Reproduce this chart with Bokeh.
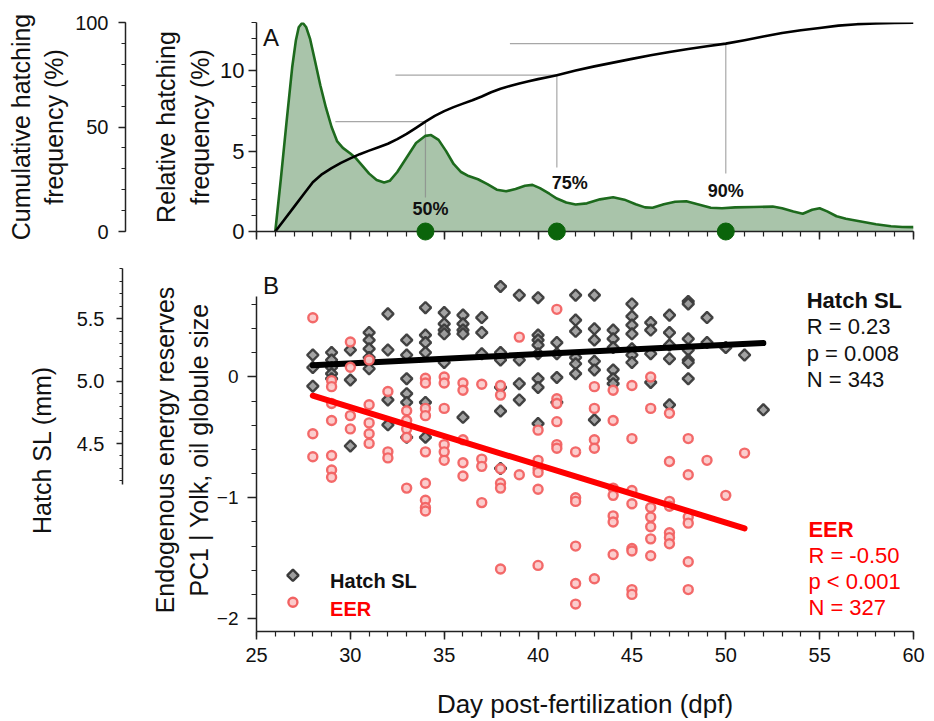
import numpy as np
from bokeh.plotting import figure
from bokeh.models import (Range1d, LinearAxis, SingleIntervalTicker, FixedTicker,
                          NumeralTickFormatter, Label)
from bokeh.layouts import column
from bokeh.embed import file_html
from bokeh.resources import INLINE
from bokeh.core.properties import value

FONT = "Liberation Sans"

# ---------------- Panel A: hatching timing ----------------
rel_days = [26.0, 26.3, 26.6, 26.9, 27.1, 27.25, 27.45, 27.65, 27.85, 28.1, 28.4, 28.7,
            29.0, 29.3, 29.6, 30.0, 30.3, 30.6, 31.0, 31.4, 31.8, 32.1, 32.5, 33.0, 33.5,
            34.0, 34.3, 34.7, 35.1, 35.5, 35.9, 36.3, 36.8, 37.3, 37.8, 38.3, 38.8, 39.3,
            39.7, 40.1, 40.6, 41.0, 41.5, 42.0, 42.6, 43.3, 44.0, 44.6, 45.2, 45.7, 46.1,
            46.7, 47.3, 47.9, 48.5, 49.2, 49.8, 50.5, 51.5, 52.5, 53.0, 53.6, 54.1, 54.6,
            55.0, 55.4, 55.9, 56.4, 57.2, 58.0, 58.8, 59.4, 60.0]
rel_freq = [0.0, 3.3, 6.8, 10.2, 11.9, 12.7, 13.0, 12.7, 12.0, 10.7, 9.1, 7.7,
            6.5, 5.6, 5.2, 4.85, 4.55, 4.15, 3.6, 3.2, 3.05, 3.15, 3.7, 4.6, 5.5,
            5.95, 6.0, 5.7, 5.0, 4.2, 3.7, 3.45, 3.25, 2.95, 2.6, 2.5, 2.65, 2.85,
            2.9, 2.7, 2.35, 2.05, 1.8, 1.68, 1.75, 2.0, 2.13, 1.98, 1.7, 1.5, 1.48,
            1.7, 1.85, 1.88, 1.7, 1.48, 1.45, 1.5, 1.52, 1.55, 1.45, 1.25, 1.1, 1.35,
            1.45, 1.25, 0.95, 0.79, 0.62, 0.45, 0.33, 0.28, 0.27]

cum_days = [26.0, 26.5, 27.0, 27.5, 28.0, 28.5, 29.0, 29.5, 30.0, 30.5, 31.0, 31.5, 32.0,
            32.5, 33.0, 33.5, 34.0, 34.5, 35.0, 35.5, 36.0, 36.5, 37.0, 37.5, 38.0, 38.5,
            39.0, 39.5, 40.0, 40.5, 41.0, 42.0, 43.0, 44.0, 45.0, 46.0, 47.0, 48.0, 49.0,
            50.0, 51.0, 52.0, 53.0, 54.0, 55.0, 56.0, 57.0, 58.0, 59.0, 60.0]
cum_freq = [0.0, 5.9, 11.8, 17.7, 23.6, 27.5, 30.3, 32.8, 35.0, 37.0, 38.7, 40.3, 42.0,
            44.2, 46.7, 49.6, 52.6, 55.3, 57.6, 59.5, 61.2, 62.8, 64.6, 66.6, 68.3, 69.6,
            70.8, 71.9, 72.9, 73.8, 74.8, 77.0, 79.0, 80.8, 82.6, 84.3, 85.9, 87.3, 88.6,
            89.9, 91.5, 93.3, 95.0, 96.3, 97.4, 98.5, 99.2, 99.6, 99.8, 99.9]

quant_days = [34, 41, 50]
quant_cum = [52.6, 74.8, 89.9]
quant_labels = ["50%", "75%", "90%"]

# ---------------- Panel B: size and energy reserves at hatch ----------------
sl_days = [28, 28, 28,
           29, 29, 29, 29, 29,
           30, 30, 30,
           31, 31, 31, 31, 31,
           32, 32, 32, 32,
           33, 33, 33, 33, 33, 33,
           34, 34, 34, 34, 34, 34,
           35, 35, 35, 35, 35,
           36, 36, 36, 36, 36,
           37, 37, 37,
           38, 38, 38, 38, 38, 38,
           39, 39, 39, 39,
           40, 40, 40, 40, 40, 40, 40, 40,
           41, 41, 41, 41,
           42, 42, 42, 42, 42, 42,
           43, 43, 43, 43, 43, 43,
           44, 44, 44, 44, 44, 44,
           45, 45, 45, 45, 45, 45, 45,
           46, 46, 46, 46,
           47, 47, 47, 47, 47,
           48, 48, 48, 48, 48, 48, 48,
           49, 49,
           50,
           51,
           52]
sl_mm = [5.21, 5.11, 4.96,
         5.23, 5.17, 5.11, 5.06, 5.02,
         5.25, 5.01, 4.48,
         5.39, 5.33, 5.26, 5.19, 5.10,
         5.54, 5.25, 4.85, 4.65,
         5.33, 5.21, 5.02, 4.90, 4.83, 4.55,
         5.59, 5.37, 5.31, 5.23, 4.83, 4.55,
         5.55, 5.46, 5.41, 5.38, 5.15,
         5.53, 5.46, 5.41, 5.38, 4.71,
         5.51, 5.39, 5.22,
         5.76, 5.23, 5.17, 4.95, 4.76, 4.30,
         5.69, 5.17, 4.98, 4.85,
         5.67, 5.37, 5.33, 5.29, 5.22, 5.02, 4.95, 4.66,
         5.31, 5.22, 5.03, 4.83,
         5.69, 5.49, 5.40, 5.19, 5.14, 5.06,
         5.69, 5.42, 5.33, 5.16, 5.09, 4.69,
         5.41, 5.34, 5.27, 5.09, 5.02, 4.98,
         5.62, 5.52, 5.45, 5.38, 5.26, 5.21, 5.15,
         5.47, 5.41, 5.22, 4.99,
         5.53, 5.39, 5.29, 5.18, 4.81,
         5.64, 5.62, 5.34, 5.25, 5.17, 5.15, 5.02,
         5.51, 5.31,
         5.27,
         5.21,
         4.77]

eer_days = [28, 28, 28,
            29, 29, 29, 29, 29, 29, 29,
            30, 30, 30, 30,
            31, 31, 31, 31, 31,
            32, 32, 32,
            33, 33, 33, 33, 33,
            34, 34, 34, 34, 34, 34, 34, 34, 34,
            35, 35, 35, 35, 35, 35,
            36, 36, 36, 36, 36,
            37, 37, 37, 37,
            38, 38, 38, 38, 38, 38,
            39, 39,
            40, 40, 40, 40, 40, 40,
            41, 41, 41, 41, 41, 41,
            42, 42, 42, 42, 42, 42,
            43, 43, 43, 43, 43,
            44, 44, 44, 44, 44, 44, 44,
            45, 45, 45, 45, 45, 45, 45, 45,
            46, 46, 46, 46, 46, 46, 46,
            47, 47, 47, 47, 47, 47, 47,
            48, 48, 48, 48, 48, 48,
            49,
            50,
            51]
eer_pc1 = [0.49, -0.47, -0.66,
           -0.03, -0.08, -0.22, -0.36, -0.65, -0.77, -0.83,
           0.29, 0.08, -0.32, -0.43,
           0.14, -0.23, -0.38, -0.47, -0.55,
           -0.12, -0.62, -0.67,
           -0.28, -0.36, -0.43, -0.50, -0.92,
           -0.01, -0.05, -0.26, -0.32, -0.62, -0.88, -1.02, -1.08, -1.11,
           0.00, -0.05, -0.26, -0.56, -0.62, -0.69,
           -0.05, -0.11, -0.52, -0.71, -0.82,
           -0.06, -0.68, -0.74, -1.04,
           -0.07, -0.15, -0.76, -0.88, -0.92, -1.59,
           0.33, -0.81,
           -0.44, -0.69, -0.76, -0.79, -0.93, -1.56,
           0.56, -0.18, -0.22, -0.37, -0.56, -0.59,
           -0.62, -1.00, -1.03, -1.40, -1.71, -1.88,
           -0.08, -0.26, -0.52, -0.59, -1.67,
           -0.11, -0.36, -0.92, -0.98, -1.15, -1.20, -1.47,
           -0.07, -0.51, -0.94, -1.05, -1.42, -1.44, -1.76, -1.80,
           0.00, -0.26, -1.08, -1.16, -1.24, -1.34, -1.48,
           -0.30, -0.70, -1.03, -1.07, -1.29, -1.33, -1.38,
           -0.51, -0.81, -1.16, -1.21, -1.53, -1.76,
           -0.69,
           -0.98,
           -0.63]

# fitted trends
sl_fit_days = [28, 52]
sl_fit_mm = [5.128, 5.306]
eer_fit_days = [28, 51]
eer_fit_pc1 = [-0.155, -1.253]

sl_stats = ["R = 0.23", "p = 0.008", "N = 343"]
eer_stats = ["R = -0.50", "p < 0.001", "N = 327"]
legend_labels = ["Hatch SL", "EER"]

GREEN_LINE = "#1d6a1d"
GREEN_FILL = "#a9c4aa"
GREEN_DOT = "#0b640b"
AX = "#222222"
SL_LINE, SL_FILL = "#3a3a3a", "#9e9e9e"
EER_LINE, EER_FILL = "#f26262", "#fbcaca"


def style_axis(ax, label_size, tick_out, minor_out, standoff):
    ax.axis_line_color = AX
    ax.axis_line_width = 1.5
    ax.major_tick_line_color = AX
    ax.minor_tick_line_color = AX
    ax.major_tick_line_width = 1.5
    ax.minor_tick_line_width = 1.2
    ax.major_tick_in = 0
    ax.minor_tick_in = 0
    ax.major_tick_out = tick_out
    ax.minor_tick_out = minor_out
    ax.major_label_text_font = FONT
    ax.major_label_text_font_size = label_size
    ax.major_label_text_color = "#111111"
    ax.major_label_standoff = standoff
    ax.axis_label_text_font = FONT
    ax.axis_label_text_font_style = "normal"
    ax.axis_label_text_font_size = "25px"
    ax.axis_label_text_color = "#111111"


def spacer_axis(range_name, gap):
    # empty axis used only to push the outer axis further left
    ax = LinearAxis(y_range_name=range_name, ticker=FixedTicker(ticks=[]))
    ax.axis_line_color = None
    ax.major_tick_out = 0
    ax.minor_tick_out = 0
    ax.major_label_standoff = 0
    ax.axis_label = " "
    ax.axis_label_text_font_size = "1px"
    ax.axis_label_text_color = None
    ax.axis_label_standoff = gap
    return ax


# ---------------- figure A ----------------
pa = figure(width=934, height=248, x_range=Range1d(25, 60), y_range=Range1d(0, 13),
            output_backend="svg", toolbar_location=None,
            min_border_left=256, min_border_right=21, min_border_top=22, min_border_bottom=17)
pa.extra_y_ranges = {"cum": Range1d(0, 100)}
pa.outline_line_color = None
pa.xgrid.visible = False
pa.ygrid.visible = False

xa = pa.xaxis[0]
xa.ticker = SingleIntervalTicker(interval=5, num_minor_ticks=5)
style_axis(xa, "1px", 8, 5, 0)
xa.major_label_text_color = None

ya = pa.yaxis[0]
ya.ticker = SingleIntervalTicker(interval=5, num_minor_ticks=5)
style_axis(ya, "22px", 8, 5, 4)
ya.axis_label = "Relative hatching\nfrequency (%)"
ya.axis_label_standoff = 3

pa.add_layout(spacer_axis("cum", 20), "left")
cum_axis = LinearAxis(y_range_name="cum", ticker=SingleIntervalTicker(interval=50, num_minor_ticks=5))
style_axis(cum_axis, "20px", 7, 4, 10)
cum_axis.axis_label = "Cumulative hatching\nfrequency (%)"
cum_axis.axis_label_standoff = 4
pa.add_layout(cum_axis, "left")

pa.varea(x=rel_days, y1=0, y2=rel_freq, fill_color=GREEN_FILL)

# guide lines from the cumulative curve to the quantile days
line_start = [29.2, 32.4, 38.5]
drop_end = [16.3, 30.6, 27.8]
pa.segment(x0=line_start, y0=quant_cum, x1=quant_days, y1=quant_cum,
           y_range_name="cum", line_color="#8a8a8a", line_width=1.2, line_alpha=0.75)
pa.segment(x0=quant_days, y0=quant_cum, x1=quant_days, y1=drop_end,
           y_range_name="cum", line_color="#8a8a8a", line_width=1.2, line_alpha=0.75)

pa.line(rel_days, rel_freq, line_color=GREEN_LINE, line_width=2.6, line_join="round")
pa.line(cum_days, cum_freq, y_range_name="cum", line_color="black", line_width=2.6,
        line_join="round")

dots = pa.scatter(x=quant_days, y=[0, 0, 0], size=17, fill_color=GREEN_DOT,
                  line_color=GREEN_DOT, marker="circle")
dots.level = "overlay"

pa.text(x=quant_days, y=[1.43, 2.99, 2.55], text=quant_labels,
        x_offset=[5, 13, 0], text_align="center", text_baseline="middle",
        text_font=value(FONT), text_font_style="bold", text_font_size="18px",
        text_color="#111111")

pa.add_layout(Label(x=25.35, y=12.07, text="A", text_font=FONT, text_font_size="24px",
                    text_baseline="middle", text_color="#111111"))

# ---------------- figure B ----------------
pb = figure(width=934, height=473, x_range=Range1d(25, 60), y_range=Range1d(-2.107, 0.898),
            output_backend="svg", toolbar_location=None,
            min_border_left=256, min_border_right=21, min_border_top=20, min_border_bottom=89)
pb.extra_y_ranges = {"sl": Range1d(2.992, 5.904)}
pb.outline_line_color = None
pb.xgrid.visible = False
pb.ygrid.visible = False

xb = pb.xaxis[0]
xb.ticker = SingleIntervalTicker(interval=5, num_minor_ticks=5)
style_axis(xb, "20px", 8, 5, 8)
xb.axis_label = "Day post-fertilization (dpf)"
xb.axis_label_text_font_size = "26px"
xb.axis_label_standoff = 24

yb = pb.yaxis[0]
yb.ticker = SingleIntervalTicker(interval=1, num_minor_ticks=5)
yb.bounds = (-2.107, 0.67)
style_axis(yb, "19px", 9, 5, 9)
yb.axis_label = "Endogenous energy reserves\nPC1 | Yolk, oil globule size"
yb.axis_label_standoff = 1

pb.add_layout(spacer_axis("sl", 22), "left")
sl_axis = LinearAxis(y_range_name="sl", ticker=SingleIntervalTicker(interval=0.5, num_minor_ticks=5),
                     formatter=NumeralTickFormatter(format="0.0"))
sl_axis.bounds = (4.17, 5.904)
style_axis(sl_axis, "20px", 6, 3, 12)
sl_axis.axis_label = "Hatch SL (mm)"
sl_axis.axis_label_standoff = 18
pb.add_layout(sl_axis, "left")

pb.scatter(sl_days, sl_mm, y_range_name="sl", marker="square", angle=np.pi / 4,
           size=8, line_color=SL_LINE, line_width=2.4, fill_color=SL_FILL,
           fill_alpha=0.95, line_alpha=0.95)
pb.line(sl_fit_days, sl_fit_mm, y_range_name="sl", line_color="black", line_width=6,
        line_cap="round")
pb.scatter(eer_days, eer_pc1, marker="circle", size=9, line_color=EER_LINE,
           line_width=2.4, fill_color=EER_FILL, fill_alpha=0.95, line_alpha=0.95)
pb.line(eer_fit_days, eer_fit_pc1, line_color="#ff0000", line_width=6, line_cap="round")

# statistics blocks
pb.text(x=[54.31], y=[0.634], text=["Hatch SL"], text_font=value(FONT), text_font_style="bold",
        text_font_size="22px", text_color="#111111", text_baseline="alphabetic")
pb.text(x=[54.31, 54.31, 54.31], y=[0.414, 0.197, -0.018], text=sl_stats, text_font=value(FONT),
        text_font_size="22px", text_color="#111111", text_baseline="alphabetic")
pb.text(x=[54.4], y=[-1.265], text=["EER"], text_font=value(FONT), text_font_style="bold",
        text_font_size="22px", text_color="#ff0000", text_baseline="alphabetic")
pb.text(x=[54.4, 54.4, 54.4], y=[-1.479, -1.691, -1.911], text=eer_stats, text_font=value(FONT),
        text_font_size="22px", text_color="#ff0000", text_baseline="alphabetic")

# legend keys (rotated-square key needs to be drawn directly)
key_x, key_y = 26.94, [-1.642, -1.865]
pb.scatter([key_x], [key_y[0]], marker="square", angle=np.pi / 4, size=8,
           line_color=SL_LINE, line_width=2.4, fill_color=SL_FILL)
pb.scatter([key_x], [key_y[1]], marker="circle", size=9, line_color=EER_LINE,
           line_width=2.4, fill_color=EER_FILL)
pb.text(x=[28.92, 28.92], y=[-1.692, -1.919], text=legend_labels, text_font=value(FONT),
        text_font_style="bold", text_font_size="20px", text_color=["#111111", "#ff0000"],
        text_baseline="alphabetic")

pb.add_layout(Label(x=25.35, y=0.758, text="B", text_font=FONT, text_font_size="24px",
                    text_baseline="middle", text_color="#111111"))

layout = column(pa, pb)
open("out.html", "w").write(file_html(layout, INLINE))
